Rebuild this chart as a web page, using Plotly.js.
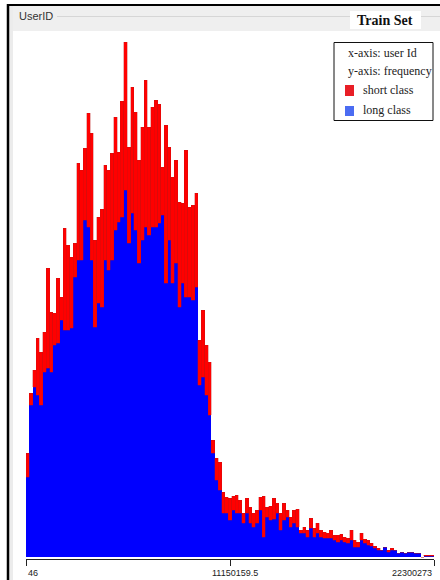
<!DOCTYPE html>
<html>
<head>
<meta charset="utf-8">
<script src="https://cdn.plot.ly/plotly-3.0.1.min.js"></script>
<style>
html,body{margin:0;padding:0;background:#fff;}
#chart{width:440px;height:580px;}
</style>
</head>
<body>
<div id="chart"></div>
<script>
// ---- data ----
const attributeName = "UserID";
const chartTitle = "Train Set";
const xMin = 46;
const xMax = 22300273;
const tickValues = [46, 11150159.5, 22300273];
const tickLabels = ["46", "11150159.5", "22300273"];
const legendLines = ["x-axis: user Id", "y-axis: frequency"];
const classNames = ["short class", "long class"];

// frequency per bin, long class (bottom of stack)
const longCounts = [
  80,152,170,162,152,185,189,185,212,214,
  237,227,227,229,280,297,297,337,330,297,
  230,254,250,297,287,297,327,335,340,367,
  314,344,327,294,317,330,322,330,330,334,
  342,274,317,274,294,250,274,260,260,257,
  270,172,180,162,142,104,77,67,44,44,
  37,47,44,44,34,44,34,30,34,47,
  20,40,37,38,44,27,37,40,30,34,
  30,24,24,20,29,20,24,20,19,19,
  19,17,15,17,15,14,17,10,10,17,
  14,12,11,9,7,7,10,5,7,7,
  4,5,4,5,5,4,4,0,1,1,1
];
// frequency per bin, short class (stacked on top)
const shortCounts = [
  24,12,17,57,53,40,100,60,32,65,
  23,102,85,71,34,97,90,72,114,127,
  87,86,98,95,100,107,113,70,116,148,
  96,126,118,103,113,147,108,120,127,119,
  48,158,93,106,103,105,80,147,90,95,
  94,45,67,50,53,13,22,28,21,16,
  22,14,18,13,10,15,16,14,13,13,
  41,10,14,21,10,17,17,7,10,13,
  18,3,6,7,10,9,10,7,6,5,
  8,5,7,6,5,5,10,7,5,7,
  4,5,3,2,2,0,0,2,2,0,
  0,0,0,0,0,0,0,0,1,1,1
];

// ---- geometry helpers for decorations (pixel -> paper) ----
const PL = 26, PR = 434, PT = 30, PB = 559;
const px = p => (p - PL) / (PR - PL);
const py = q => (PB - q) / (PB - PT);

const nBins = longCounts.length;
const binW = (xMax - xMin) / nBins;
const centers = longCounts.map((_, i) => xMin + binW * (i + 0.5));

const traces = [
  {
    type: 'bar', name: classNames[1], x: centers, y: longCounts, width: binW,
    marker: {color: '#0000ff', line: {width: 0}},
    showlegend: false, hoverinfo: 'x+y'
  },
  {
    type: 'bar', name: classNames[0], x: centers, y: shortCounts, width: binW,
    marker: {color: '#ff0000', line: {color: '#b81414', width: 0.3}},
    showlegend: false, hoverinfo: 'x+y'
  }
];

const serif = '"Liberation Serif", "Times New Roman", serif';
const sans = '"Liberation Sans", Arial, sans-serif';

const shapes = [
  // header band (grey)
  {type:'rect', xref:'paper', yref:'paper', x0:px(9), x1:px(440), y0:py(31), y1:py(6),
   fillcolor:'#efefef', line:{width:0}, layer:'below'},
  // left grey strip
  {type:'rect', xref:'paper', yref:'paper', x0:px(9), x1:px(13), y0:py(580), y1:py(6),
   fillcolor:'#ececec', line:{width:0}, layer:'below'},
  // etched title line
  {type:'line', xref:'paper', yref:'paper', x0:px(57), x1:px(440), y0:py(16.5), y1:py(16.5),
   line:{color:'#d6d6d6', width:1}, layer:'below'},
  // black frame, top and left
  {type:'line', xref:'paper', yref:'paper', x0:px(7), x1:px(440), y0:py(5), y1:py(5),
   line:{color:'#000', width:2}},
  {type:'line', xref:'paper', yref:'paper', x0:px(8), x1:px(8), y0:py(4), y1:py(580),
   line:{color:'#000', width:2.5}},
  // white box behind title
  {type:'rect', xref:'paper', yref:'paper', x0:px(350), x1:px(421), y0:py(29), y1:py(11),
   fillcolor:'#ffffff', line:{width:0}, layer:'below'},
  // legend box
  {type:'rect', xref:'paper', yref:'paper', x0:px(334), x1:px(433), y0:py(120.5), y1:py(42.5),
   fillcolor:'#ffffff', line:{color:'#111', width:1}},
  // legend swatches
  {type:'rect', xref:'paper', yref:'paper', x0:px(345), x1:px(354), y0:py(96), y1:py(85),
   fillcolor:'#e81e26', line:{width:0}},
  {type:'rect', xref:'paper', yref:'paper', x0:px(345), x1:px(354), y0:py(116), y1:py(106),
   fillcolor:'#4b6cf2', line:{width:0}}
];

const annotations = [
  {xref:'paper', yref:'paper', x:px(17), y:py(16), xanchor:'left', yanchor:'middle',
   text:attributeName, showarrow:false, font:{family:sans, size:11, color:'#333'}},
  {xref:'paper', yref:'paper', x:px(385), y:py(20), xanchor:'center', yanchor:'middle',
   text:'<b>' + chartTitle + '</b>', showarrow:false, font:{family:serif, size:14, color:'#111'}},
  {xref:'paper', yref:'paper', x:px(346), y:py(53), xanchor:'left', yanchor:'middle',
   text:legendLines[0], showarrow:false, font:{family:serif, size:12, color:'#222'}},
  {xref:'paper', yref:'paper', x:px(346), y:py(71), xanchor:'left', yanchor:'middle',
   text:legendLines[1], showarrow:false, font:{family:serif, size:12, color:'#222'}},
  {xref:'paper', yref:'paper', x:px(361), y:py(90), xanchor:'left', yanchor:'middle',
   text:classNames[0], showarrow:false, font:{family:serif, size:12, color:'#222'}},
  {xref:'paper', yref:'paper', x:px(361), y:py(110), xanchor:'left', yanchor:'middle',
   text:classNames[1], showarrow:false, font:{family:serif, size:12, color:'#222'}},
  // x tick labels
  {xref:'x', yref:'paper', x:tickValues[0], y:py(573), xanchor:'left', yanchor:'middle',
   text:tickLabels[0], showarrow:false, font:{family:sans, size:9, color:'#222'}},
  {xref:'x', yref:'paper', x:tickValues[1], y:py(573), xanchor:'center', yanchor:'middle', xshift:5,
   text:tickLabels[1], showarrow:false, font:{family:sans, size:9, color:'#222'}},
  {xref:'x', yref:'paper', x:tickValues[2], y:py(573), xanchor:'right', yanchor:'middle',
   text:tickLabels[2], showarrow:false, font:{family:sans, size:9, color:'#222'}}
];

const layout = {
  width: 440, height: 580,
  margin: {l: PL, r: 440 - PR, t: PT, b: 580 - PB, pad: 0},
  paper_bgcolor: '#ffffff', plot_bgcolor: '#ffffff',
  barmode: 'stack', bargap: 0,
  showlegend: false,
  xaxis: {
    range: [xMin, xMax], showgrid: false, zeroline: false,
    showline: true, linecolor: '#222', linewidth: 1,
    ticks: 'outside', ticklen: 6, tickcolor: '#222', tickwidth: 1,
    tickmode: 'array', tickvals: tickValues, showticklabels: false, fixedrange: true
  },
  yaxis: {
    range: [-2, 527], visible: false, fixedrange: true
  },
  shapes: shapes,
  annotations: annotations
};

Plotly.newPlot('chart', traces, layout, {displayModeBar: false, staticPlot: true});
</script>
</body>
</html>
